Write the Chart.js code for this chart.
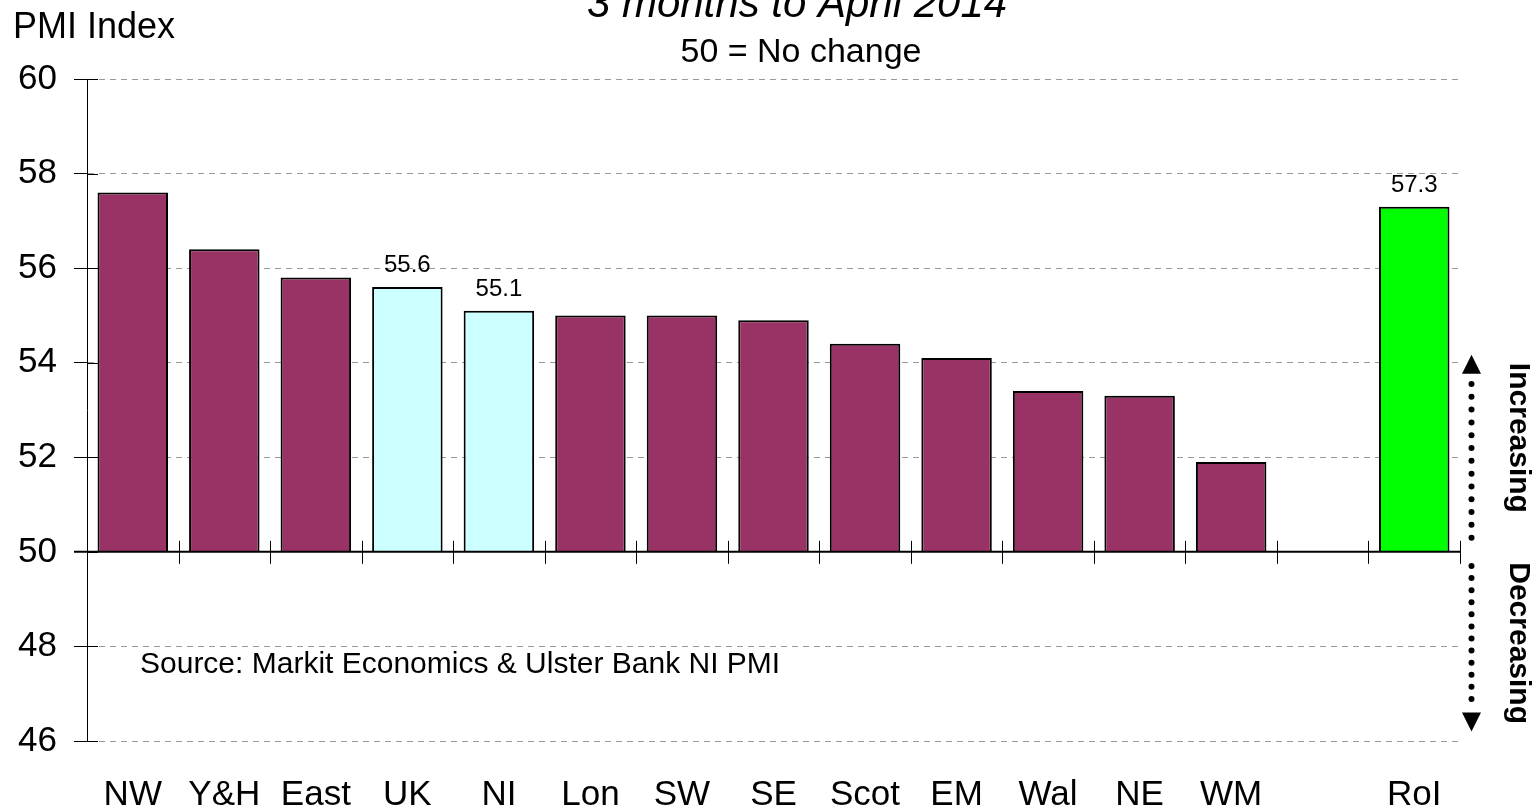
<!DOCTYPE html>
<html>
<head>
<meta charset="utf-8">
<script src="https://cdn.jsdelivr.net/npm/chart.js@4.4.1/dist/chart.umd.min.js"></script>
<style>
  html, body { margin: 0; padding: 0; background: #fff; }
  #wrap { width: 1538px; height: 810px; }
</style>
</head>
<body>
<div id="wrap"><canvas id="pmi"></canvas></div>
<script>
// regional PMI, 3 months to April 2014
const regions = ["NW", "Y&H", "East", "UK", "NI", "Lon", "SW", "SE", "Scot", "EM", "Wal", "NE", "WM", "", "RoI"]
const pmiValues = [57.6, 56.4, 55.8, 55.6, 55.1, 55.0, 55.0, 54.9, 54.4, 54.1, 53.4, 53.3, 51.9, null, 57.3]
const yTicks = [46, 48, 50, 52, 54, 56, 58, 60]
const labelled = ["UK", "NI", "RoI"]
const noChange = 50

const FONT = "'Liberation Sans', Arial, sans-serif"
const MAROON = "#993366"
const PALE = "#CCFFFF"
const GREEN = "#00FF00"

const barColours = regions.map(r => {
  if (r === "RoI") return GREEN
  if (r === "UK" || r === "NI") return PALE
  return MAROON
})

// axis at 50, crossing ticks, value labels and the side notes
const decorations = {
  id: "decorations",
  afterDatasetsDraw(chart) {
    const { ctx, chartArea, scales: { x, y } } = chart
    const y50 = y.getPixelForValue(noChange)
    const step = x.getPixelForValue(1) - x.getPixelForValue(0)

    ctx.save()
    // category axis through 50
    ctx.strokeStyle = "#000"
    ctx.lineWidth = 2
    ctx.beginPath()
    ctx.moveTo(chartArea.left - 13, y50)
    ctx.lineTo(chartArea.right, y50)
    ctx.stroke()

    ctx.lineWidth = 1
    for (let i = 1; i <= regions.length; i++) {
      const px = Math.round(x.getPixelForValue(i) - step / 2) + 0.5
      ctx.beginPath()
      ctx.moveTo(px, y50 - 11)
      ctx.lineTo(px, y50 + 12)
      ctx.stroke()
    }

    // inner halves of the value-axis ticks
    yTicks.forEach(t => {
      const py = Math.round(y.getPixelForValue(t)) + 0.5
      ctx.beginPath()
      ctx.moveTo(chartArea.left, py)
      ctx.lineTo(chartArea.left + 11, py)
      ctx.stroke()
    })

    // value labels
    const meta = chart.getDatasetMeta(0)
    ctx.fillStyle = "#000"
    ctx.font = "24px " + FONT
    ctx.textAlign = "center"
    ctx.textBaseline = "alphabetic"
    regions.forEach((r, i) => {
      if (!labelled.includes(r)) return
      const bar = meta.data[i]
      ctx.fillText(pmiValues[i].toFixed(1), bar.x, bar.y - 15)
    })

    // source note
    ctx.textAlign = "left"
    ctx.font = "30px " + FONT
    ctx.fillText("Source: Markit Economics & Ulster Bank NI PMI", 140, y.getPixelForValue(47.44))

    // direction arrows
    const ax = chartArea.right + 11.5
    const dotted = (from, to) => {
      const a = y.getPixelForValue(from), b = y.getPixelForValue(to)
      const n = Math.round(Math.abs(b - a) / 12.5)
      for (let k = 0; k <= n; k++) {
        ctx.beginPath()
        ctx.arc(ax, a + (b - a) * k / n, 3, 0, Math.PI * 2)
        ctx.fill()
      }
    }
    const head = (tipVal, dir) => {
      const tip = y.getPixelForValue(tipVal)
      ctx.beginPath()
      ctx.moveTo(ax, tip)
      ctx.lineTo(ax - 9.5, tip + dir * 19)
      ctx.lineTo(ax + 9.5, tip + dir * 19)
      ctx.closePath()
      ctx.fill()
    }
    dotted(50.3, 53.55)
    head(54.17, 1)
    dotted(49.7, 46.89)
    head(46.2, -1)

    // rotated captions
    ctx.font = "bold 30px " + FONT
    ctx.textAlign = "center"
    ctx.textBaseline = "middle"
    const side = (text, val) => {
      ctx.save()
      ctx.translate(chartArea.right + 58, y.getPixelForValue(val))
      ctx.rotate(Math.PI / 2)
      ctx.fillText(text, 0, 0)
      ctx.restore()
    }
    side("Increasing", 52.41)
    side("Decreasing", 48.07)

    // headings
    ctx.textBaseline = "alphabetic"
    ctx.font = "italic 42px " + FONT
    ctx.fillText("3 months to April 2014", 797, 17)
    ctx.font = "34px " + FONT
    ctx.fillText("50 = No change", 801, 62)
    ctx.textAlign = "left"
    ctx.font = "36px " + FONT
    ctx.fillText("PMI Index", 13, 38)
    ctx.restore()
  }
}

new Chart(document.getElementById("pmi"), {
  type: "bar",
  data: {
    labels: regions,
    datasets: [{
      data: pmiValues.map(v => v === null ? null : [noChange, v]),
      backgroundColor: barColours,
      borderColor: "#000",
      borderWidth: 2,
      borderSkipped: "start",
      barPercentage: 0.77,
      categoryPercentage: 1
    }]
  },
  options: {
    responsive: true,
    maintainAspectRatio: false,
    animation: false,
    layout: { padding: { top: 79, right: 78, left: 0, bottom: 0 } },
    plugins: {
      legend: { display: false },
      tooltip: { enabled: false }
    },
    scales: {
      x: {
        grid: { display: false, drawTicks: false },
        border: { display: false },
        ticks: {
          color: "#000",
          font: { family: FONT, size: 35 },
          padding: 33,
          maxRotation: 0,
          autoSkip: false
        },
        afterFit: (scale) => { scale.height = 69 }
      },
      y: {
        min: 46,
        max: 60,
        afterBuildTicks: (scale) => { scale.ticks = yTicks.map(v => ({ value: v })) },
        grid: {
          color: "#999",
          lineWidth: 1,
          drawTicks: true,
          tickLength: 13,
          tickColor: "#000",
          tickBorderDash: []
        },
        border: { display: true, color: "#000", width: 1, dash: [6, 5] },
        ticks: {
          color: "#000",
          font: { family: FONT, size: 35 },
          padding: 17
        },
        afterFit: (scale) => { scale.width = 87 }
      }
    }
  },
  plugins: [decorations]
})
</script>
</body>
</html>
